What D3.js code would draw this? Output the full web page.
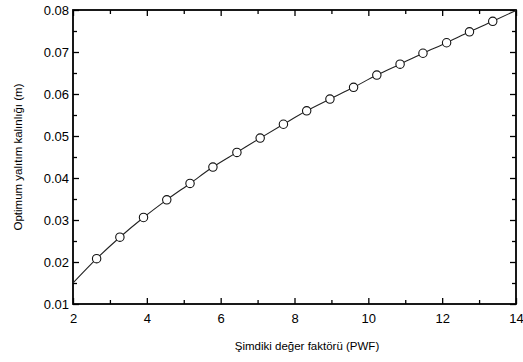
<!DOCTYPE html>
<html>
<head>
<meta charset="utf-8">
<script src="https://cdn.jsdelivr.net/npm/d3@7"></script>
<style>
  body { margin: 0; background: #fff; }
  svg { display: block; font-family: "Liberation Sans", Arial, sans-serif; }
  .axis text { font-size: 13px; fill: #000; }
  .axis line { stroke: #000; stroke-width: 1.3; }
</style>
</head>
<body>
<div id="chart"></div>
<script>
// PWF values of the circle markers
const pwf = [2.64, 3.27, 3.91, 4.54, 5.17, 5.79, 6.44, 7.07, 7.70, 8.33, 8.96, 9.60, 10.23, 10.86, 11.48, 12.12, 12.74, 13.37];
// optimum insulation thickness (m) at each marker
const thickness = [0.0208, 0.0259, 0.0306, 0.0348, 0.0387, 0.0426, 0.0461, 0.0495, 0.0528, 0.0560, 0.0588, 0.0616, 0.0645, 0.0671, 0.0697, 0.0722, 0.0748, 0.0773];
// the solid curve runs from the left frame to the top right corner
const curveStart = [2, 0.0150];
const curveEnd = [14, 0.0799];

const xMajor = [2, 4, 6, 8, 10, 12, 14];
const xMinor = [3, 5, 7, 9, 11, 13];
const yMajor = [0.01, 0.02, 0.03, 0.04, 0.05, 0.06, 0.07, 0.08];
const yMinor = [0.015, 0.025, 0.035, 0.045, 0.055, 0.065, 0.075];

const W = 523, H = 362;
const plot = {left: 73, right: 516, top: 10, bottom: 304};

const svg = d3.select('#chart').append('svg')
.attr('width', W)
.attr('height', H);

svg.append('rect').attr('width', W).attr('height', H).attr('fill', '#fff');

const x = d3.scaleLinear().domain([2, 14]).range([plot.left, plot.right]);
const y = d3.scaleLinear().domain([0.01, 0.08]).range([plot.bottom, plot.top]);

// ticks point inward on all four sides
const addAxis = (gen, tx, ty) => {
    const g = svg.append('g')
    .attr('class', 'axis')
    .attr('transform', `translate(${tx},${ty})`)
    .call(gen);
    g.select('.domain').remove();
    return g;
};

addAxis(d3.axisBottom(x).tickValues(xMajor).tickSize(-6).tickPadding(10).tickFormat(d3.format('d')), 0, plot.bottom);
addAxis(d3.axisBottom(x).tickValues(xMinor).tickSize(-4).tickFormat(''), 0, plot.bottom);
addAxis(d3.axisTop(x).tickValues(xMajor).tickSize(-6).tickFormat(''), 0, plot.top);
addAxis(d3.axisTop(x).tickValues(xMinor).tickSize(-4).tickFormat(''), 0, plot.top);

addAxis(d3.axisLeft(y).tickValues(yMajor).tickSize(-6).tickPadding(4).tickFormat(d3.format('.2f')), plot.left, 0);
addAxis(d3.axisLeft(y).tickValues(yMinor).tickSize(-4).tickFormat(''), plot.left, 0);
addAxis(d3.axisRight(y).tickValues(yMajor).tickSize(-6).tickFormat(''), plot.right, 0);
addAxis(d3.axisRight(y).tickValues(yMinor).tickSize(-4).tickFormat(''), plot.right, 0);

svg.append('rect')
.attr('x', plot.left)
.attr('y', plot.top)
.attr('width', plot.right - plot.left)
.attr('height', plot.bottom - plot.top)
.attr('fill', 'none')
.attr('stroke', '#000')
.attr('stroke-width', 1.8);

const curvePts = [curveStart].concat(pwf.map((p, i) => [p, thickness[i]]), [curveEnd]);

const line = d3.line()
.x(d => x(d[0]))
.y(d => y(d[1]))
.curve(d3.curveMonotoneX);

svg.append('path')
.datum(curvePts)
.attr('fill', 'none')
.attr('stroke', '#222')
.attr('stroke-width', 1.1)
.attr('d', line);

svg.selectAll('circle.pt')
.data(pwf)
.enter()
.append('circle')
.attr('class', 'pt')
.attr('cx', d => x(d))
.attr('cy', (d, i) => y(thickness[i]))
.attr('r', 4.2)
.attr('fill', '#fff')
.attr('stroke', '#111')
.attr('stroke-width', 1.1);

svg.append('text')
.attr('x', 307)
.attr('y', 350)
.attr('text-anchor', 'middle')
.attr('font-size', 11.5)
.text('Şimdiki değer faktörü (PWF)');

svg.append('text')
.attr('transform', `translate(22,${(plot.top + plot.bottom) / 2}) rotate(-90)`)
.attr('text-anchor', 'middle')
.attr('font-size', 11.5)
.text('Optimum yalıtım kalınlığı (m)');
</script>
</body>
</html>
